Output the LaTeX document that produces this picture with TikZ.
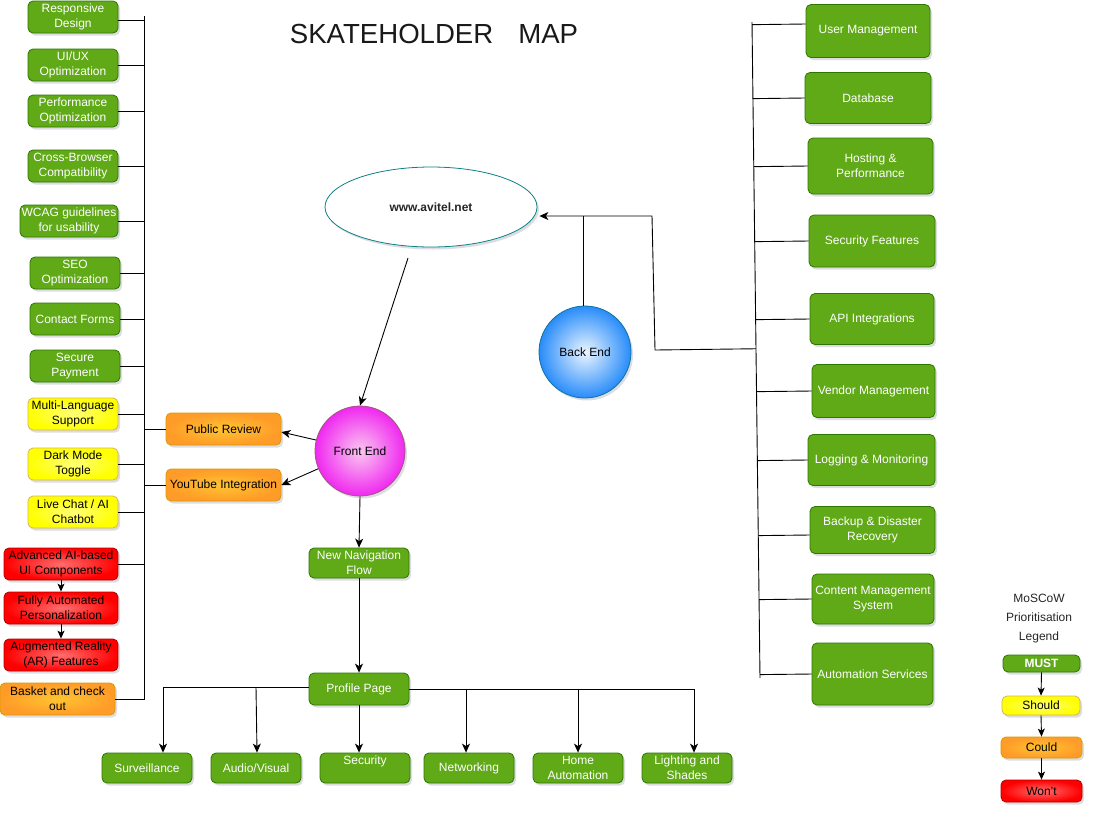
\documentclass[tikz,border=0pt]{standalone}
\usepackage{fontspec}
\setmainfont{Liberation Sans}
\usetikzlibrary{arrows.meta,shadows,calc,shapes.geometric}
\definecolor{gfill}{HTML}{60A917}
\definecolor{gline}{HTML}{2D7600}
\definecolor{yline}{HTML}{D6B656}
\definecolor{oline}{HTML}{D79B00}
\definecolor{rline}{HTML}{B20000}
\definecolor{tealline}{HTML}{0E8088}
\definecolor{mline}{HTML}{9E5A7A}
\definecolor{bline}{HTML}{10739E}
\definecolor{shd}{HTML}{8890A0}
\begin{document}
\begin{tikzpicture}[x=1pt,y=-1pt,
  sh/.style={drop shadow={shadow xshift=2pt,shadow yshift=-2.5pt,opacity=0.3,fill=shd}},
  box/.style={rounded corners=5pt,line width=0.8pt,align=center,inner sep=1pt,
    font=\fontsize{12}{15}\selectfont,sh},
  gbox/.style={box,fill=gfill,draw=gline,text=white},
  ybox/.style={box,draw=yline,inner color={rgb,255:red,255;green,255;blue,120},outer color={rgb,255:red,255;green,255;blue,0},text=black},
  obox/.style={box,draw=oline,inner color={rgb,255:red,255;green,196;blue,50},outer color={rgb,255:red,255;green,155;blue,40},text=black},
  rbox/.style={box,draw=rline,inner color={rgb,255:red,255;green,110;blue,110},outer color={rgb,255:red,255;green,0;blue,0},text=black},
  sz/.style 2 args={minimum width=#1pt,minimum height=#2pt},
  ln/.style={line width=0.9pt,draw=black},
  arr/.style={ln,-{Stealth[length=9pt,width=8pt,inset=2.5pt]}},
  sarr/.style={ln,-{Stealth[length=8pt,width=7pt,inset=2pt]}}
]
\useasboundingbox (0,0) rectangle (1094,815);
\fill[white] (0,0) rectangle (1094,815);

% title
\node[text=black!90,font=\fontsize{27.6}{30}\selectfont] (title) at (434,34) {SKATEHOLDER\hspace{25pt}MAP};

% left column
\node[gbox,sz={90}{32}] (rd) at (73,17) {Responsive\\Design};
\node[gbox,sz={90}{32}] (ui) at (73,65) {UI/UX\\Optimization};
\node[gbox,sz={90}{32}] (perf) at (73,111) {Performance\\Optimization};
\node[gbox,sz={90}{32}] (cb) at (73,166) {Cross-Browser\\Compatibility};
\node[gbox,sz={98}{32}] (wcag) at (69,221) {WCAG guidelines\\for usability};
\node[gbox,sz={90}{32}] (seo) at (75,273) {SEO\\Optimization};
\node[gbox,sz={90}{32}] (cf) at (75,319) {Contact Forms};
\node[gbox,sz={90}{32}] (sp) at (75,366) {Secure\\Payment};
\node[ybox,sz={90}{32}] (ml) at (73,414) {Multi-Language\\Support};
\node[ybox,sz={90}{32}] (dm) at (73,464) {Dark Mode\\Toggle};
\node[ybox,sz={90}{32}] (lc) at (73,512) {Live Chat / AI\\Chatbot};
\node[rbox,sz={114}{32}] (ai) at (61,564) {Advanced AI-based\\UI Components};
\node[rbox,sz={114}{32}] (fa) at (61,608) {Fully Automated\\Personalization};
\node[rbox,sz={114}{32}] (ar) at (61,655) {Augmented Reality\\(AR) Features};
\node[obox,sz={115}{32}] (bc) at (57.5,699) {Basket and check\\out};

\node[obox,sz={115}{32}] (pr) at (223.5,429) {Public Review};
\node[obox,sz={115}{32}] (yt) at (223.5,485) {YouTube Integration};

\coordinate (lb) at (144,16);
\draw[ln] (lb) -- (lb |- bc.east) -- (bc.east);
\foreach \n in {ui,perf,cb,wcag,seo,cf,sp,ml,dm,lc,ai}
  \draw[ln] (\n.east) -- (\n.east -| lb);
\draw[ln] ([yshift=-3pt]rd.east) -- ([yshift=-3pt]rd.east -| lb);
\draw[ln] (pr.west) -- (pr.west -| lb);
\draw[ln] (yt.west) -- (yt.west -| lb);
\draw[sarr] (ai.south) -- (fa.north);
\draw[sarr] (fa.south) -- (ar.north);

% center
\node[ellipse,draw=tealline,line width=0.8pt,fill=white,minimum width=212pt,minimum height=80pt,inner sep=0pt,
  font=\bfseries\fontsize{12}{14}\selectfont,text=black!85,sh] (www) at (431,207) {www.avitel.net};
\node[circle,draw=mline,line width=0.8pt,inner color={rgb,255:red,250;green,200;blue,240},outer color={rgb,255:red,240;green,40;blue,240},
  minimum size=90pt,inner sep=0pt,font=\fontsize{12}{14}\selectfont,sh] (fe) at (360,451) {Front End};
\node[circle,draw=bline,line width=0.8pt,inner color={rgb,255:red,235;green,245;blue,255},outer color={rgb,255:red,40;green,140;blue,250},
  minimum size=92pt,inner sep=0pt,font=\fontsize{12}{14}\selectfont,sh] (be) at (585,352) {Back End};

\node[gbox,sz={100}{30}] (nnf) at (359,563) {New Navigation\\Flow};
\node[gbox,sz={100}{32}] (pp) at (359,689) {Profile Page};

\draw[arr] ([shift={(-23,51)}]www.center) -- (fe.north);
\draw[arr] (fe.166) -- ([yshift=-3pt]pr.east);
\draw[arr] (fe.203) -- (yt.east);
\draw[arr] (fe.south) -- (nnf.north);
\draw[arr] (nnf.south) -- (pp.north);

% bottom row
\node[gbox,sz={90}{30}] (sv) at (147,768) {Surveillance};
\node[gbox,sz={90}{30}] (av) at (256,768) {Audio/Visual};
\node[gbox,sz={90}{30}] (sec) at (365,768) {Security\\[0pt]\mbox{}};
\node[gbox,sz={90}{30}] (net) at (469,768) {Networking};
\node[gbox,sz={90}{30}] (ha) at (578,768) {Home\\Automation};
\node[gbox,sz={90}{30}] (ls) at (687,768) {Lighting and\\Shades};

\draw[arr] ([yshift=2pt]pp.west) -| ([xshift=16pt]sv.north);
\draw[arr] ([yshift=2pt]pp.west -| av.north) -- ([xshift=1pt]av.north);
\draw[arr] (pp.south) -- (pp.south |- sec.north);
\draw[ln] (pp.east) -- ([xshift=7pt]pp.east -| ls.north);
\draw[arr] ([xshift=-3pt]pp.east -| net.north) -- ([xshift=-3pt]net.north);
\draw[arr] (pp.east -| ha.north) -- (ha.north);
\draw[arr] ([xshift=7pt]pp.east -| ls.north) -- ([xshift=7pt]ls.north);

% right column
\node[gbox,sz={124}{53}] (um) at (868,31) {User Management};
\node[gbox,sz={126}{51}] (db) at (868,98) {Database};
\node[gbox,sz={125}{56}] (hp) at (870.5,166) {Hosting \&\\Performance};
\node[gbox,sz={126}{52}] (sf) at (872,241) {Security Features};
\node[gbox,sz={124}{51}] (api) at (872,319) {API Integrations};
\node[gbox,sz={123}{53}] (vm) at (873.5,391) {Vendor Management};
\node[gbox,sz={127}{51}] (lm) at (871.5,460) {Logging \& Monitoring};
\node[gbox,sz={125}{47}] (bd) at (872.5,530) {Backup \& Disaster\\Recovery};
\node[gbox,sz={122}{50}] (cms) at (873,599) {Content Management\\System};
\node[gbox,sz={121}{62}] (as) at (872.5,674) {Automation Services};

\coordinate (rt) at (752,22);
\coordinate (rb) at (760,678);
\draw[ln] (rt) -- (rb);
\coordinate (umc) at ([yshift=7pt]um.west);
\draw[ln] (umc) -- ($(rt)!(umc)!(rb)$);
\coordinate (bdc) at ([yshift=-5pt]bd.west);
\draw[ln] (bdc) -- ($(rt)!(bdc)!(rb)$);
\foreach \n in {db,hp,sf,api,vm,lm,cms,as}
  \draw[ln] (\n.west) -- ($(rt)!(\n.west)!(rb)$);

\coordinate (j1) at (652,216);
\coordinate (j2) at (655,350);
\draw[arr] ($(rt)!(j2)!(rb)$) -- (j2) -- (j1) -- ([xshift=2pt]www.east |- j1);
\draw[ln] ([xshift=-2pt]be.north) -- ([xshift=-2pt]be.north |- j1);

% legend
\node[align=center,text=black!85,font=\fontsize{12}{19}\selectfont] (lg) at (1039,619) {MoSCoW\\Prioritisation\\Legend};
\node[gbox,sz={77}{17},font=\bfseries\fontsize{12}{14}\selectfont] (must) at (1041.5,663.5) {MUST};
\node[ybox,sz={78}{19}] (should) at (1041,705.5) {Should};
\node[obox,sz={81}{21}] (could) at (1041.5,747.5) {Could};
\node[rbox,sz={81}{22}] (wont) at (1041.5,791) {Won't};
\draw[sarr] (must.south) -- (should.north);
\draw[sarr] (should.south) -- (could.north);
\draw[sarr] (could.south) -- (wont.north);
\end{tikzpicture}
\end{document}
